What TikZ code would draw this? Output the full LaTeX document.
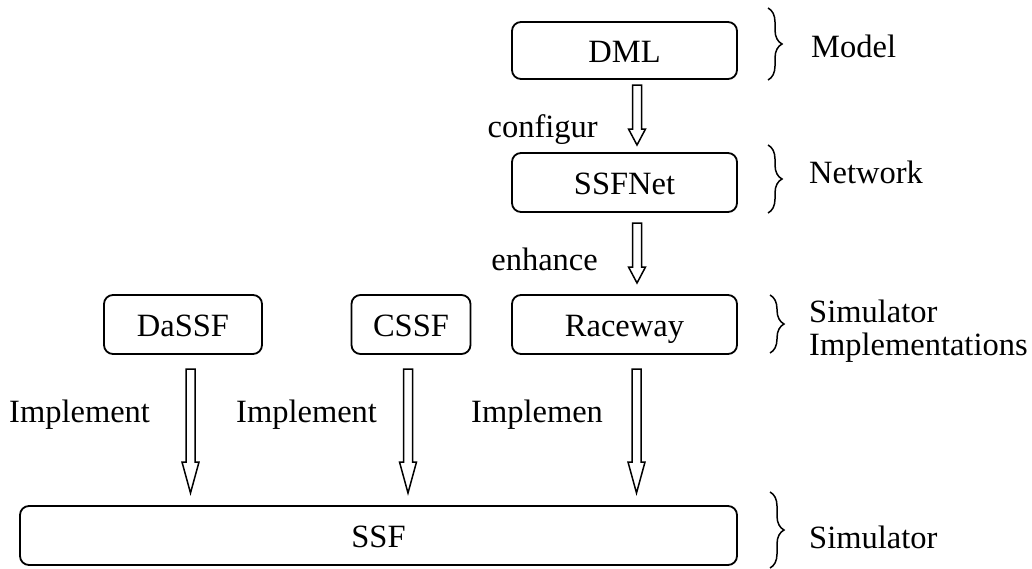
\documentclass[tikz,border=0pt]{standalone}
\usepackage{fontspec}
\setmainfont{Liberation Serif}
\usetikzlibrary{calc,decorations.pathreplacing}
\newcommand\harrow[3]{%
  \draw[hollow] let \p1=(#1), \p2=(#2) in
    (\x1-4.5pt,\y1) -- (\x1-4.5pt,\y2+#3) -- (\x1-8.5pt,\y2+#3) -- (\x1,\y2)
    -- (\x1+8.5pt,\y2+#3) -- (\x1+4.5pt,\y2+#3) -- (\x1+4.5pt,\y1) -- cycle;}
\begin{document}
\begin{tikzpicture}[x=1pt,y=-1pt,
  every node/.style={font=\fontsize{32.5}{33}\selectfont, inner sep=0pt},
  box/.style={draw, rounded corners=9pt, line width=1.8pt, text height=23pt, text depth=0pt},
  hollow/.style={draw, line width=1.5pt, line join=miter, fill=white},
  brc/.style={draw, line width=1.5pt, decorate, decoration={brace, amplitude=14pt, aspect=0.5}},
  lbl/.style={anchor=base west}]
\useasboundingbox (0,0) rectangle (1032,568);
% boxes
\node[box, minimum width=225pt, minimum height=57pt] (dml) at (624.5,50.5) {DML};
\node[box, minimum width=225pt, minimum height=59pt] (net) at (624.5,182.5) {SSFNet};
\node[box, minimum width=158pt, minimum height=59pt] (dassf) at (183,324.5) {DaSSF};
\node[box, minimum width=119pt, minimum height=59pt] (cssf) at (411,324.5) {CSSF};
\node[box, minimum width=225pt, minimum height=59pt] (race) at (624.5,324.5) {Raceway};
\node[box, minimum width=717pt, minimum height=59pt] (ssf) at (378.5,535.5) {SSF};
% arrow end points
\coordinate (a1s) at (637,85);   \coordinate (a1e) at (637,145);
\coordinate (a2s) at (637,223);  \coordinate (a2e) at (637,283);
\coordinate (a3s) at (190.5,369); \coordinate (a3e) at (190.5,493);
\coordinate (a4s) at (408,369);  \coordinate (a4e) at (408,493);
\coordinate (a5s) at (636.5,369); \coordinate (a5e) at (636.5,493);
\harrow{a1s}{a1e}{16pt}
\harrow{a2s}{a2e}{16pt}
\harrow{a3s}{a3e}{31pt}
\harrow{a4s}{a4e}{31pt}
\harrow{a5s}{a5e}{31pt}
% arrow labels
\node[anchor=base east] (lconf) at (598,137) {configur};
\node[anchor=base east] (lenh) at (598,270) {enhance};
\node[lbl] (li1) at (9,422) {Implement};
\node[lbl] (li2) at (236,422) {Implement};
\node[lbl] (li3) at (471,422) {Implemen};
% braces
\draw[brc] (768,8) -- (768,80);
\draw[brc] (768,145) -- (768,213);
\draw[brc] (770,295) -- (770,353);
\draw[brc] (770,492) -- (770,568);
\node[lbl] (tmodel) at (811,57) {Model};
\node[lbl] (tnet) at (809,183) {Network};
\node[lbl, align=left] (tsim) at (809,355) {Simulator\\Implementations};
\node[lbl] (tsim2) at (809,548) {Simulator};
\end{tikzpicture}
\end{document}
